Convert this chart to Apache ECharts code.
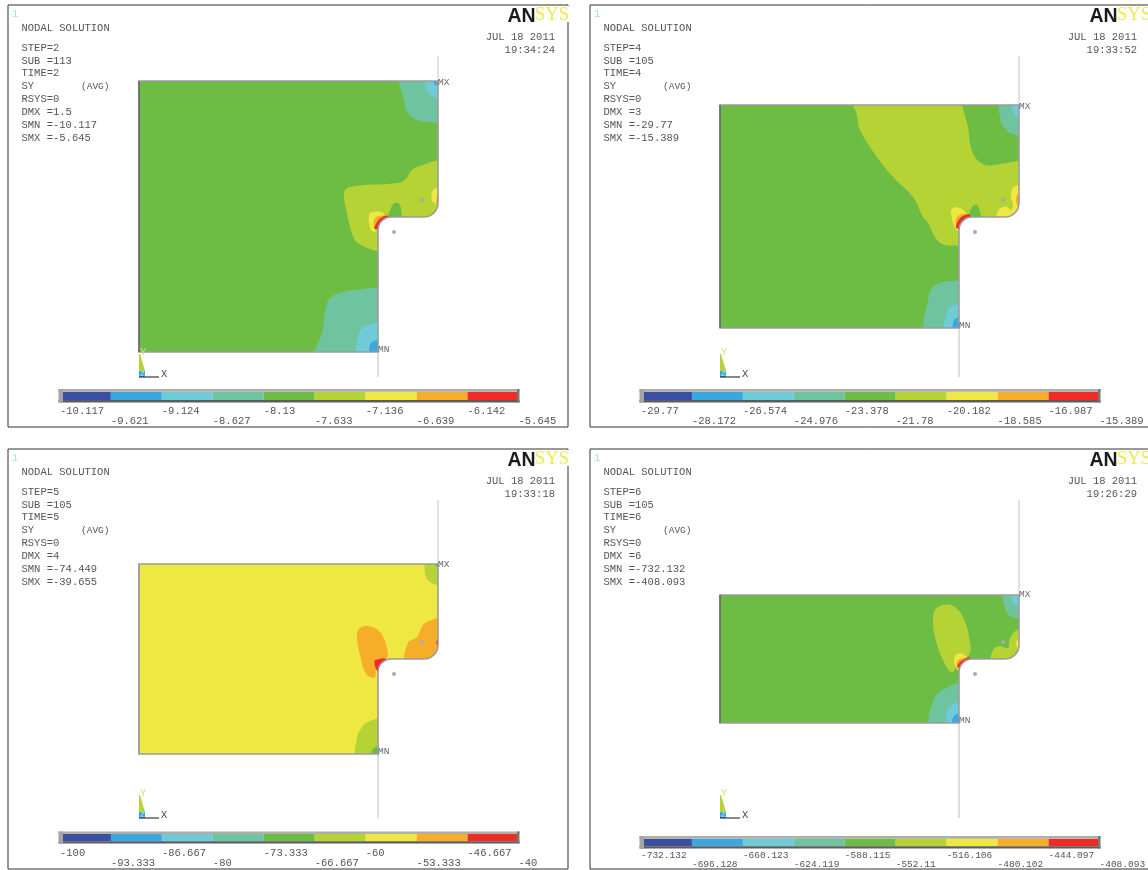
<!DOCTYPE html>
<html lang="en">
<head>
    <meta charset="UTF-8">
    <title>ANSYS nodal solution SY</title>
    <script src="https://cdn.jsdelivr.net/npm/echarts@6/dist/echarts.min.js"></script>
    <style>
        body { margin: 0; background: #fff; }
        #chart { width: 1148px; height: 870px; }
    </style>
</head>
<body>
    <div id="chart"></div>
    <script>
        // contour band colours, low to high
        const bandColors = ['#3a4fa0', '#3ba7e0', '#70cbd8', '#6ec49e', '#6dbd44', '#b5d334', '#efe843', '#f6ae2a', '#ee2b27'];

        const stepValues = [2, 4, 5, 6];
        const subValues = [113, 105, 105, 105];
        const dmxValues = ['1.5', '3', '4', '6'];
        const smnValues = ['-10.117', '-29.77', '-74.449', '-732.132'];
        const smxValues = ['-5.645', '-15.389', '-39.655', '-408.093'];
        const clockValues = ['19:34:24', '19:33:52', '19:33:18', '19:26:29'];

        const levelsStep2 = [-10.117, -9.621, -9.124, -8.627, -8.13, -7.633, -7.136, -6.639, -6.142, -5.645];
        const levelsStep4 = [-29.77, -28.172, -26.574, -24.976, -23.378, -21.78, -20.182, -18.585, -16.987, -15.389];
        const levelsStep5 = [-100, -93.333, -86.667, -80, -73.333, -66.667, -60, -53.333, -46.667, -40];
        const levelsStep6 = [-732.132, -696.128, -660.123, -624.119, -588.115, -552.11, -516.106, -480.102, -444.097, -408.093];

        // plate size in plot units, origin at the plate's top left corner
        const plateWidth = 299;
        const stepX = 239;
        const plateHeights = [271, 223, 190, 128];
        const notchYs = [136, 112, 95, 64];
        const outerRadius = 14;
        const innerRadius = 13;
        const centerOffset = 16;
        const guideLengths = [25, 49, 64, 95];
        const baseBands = [4, 4, 6, 4];
        const mxYs = [1, 1, 0, -1];
        const mnYs = [268, 220, 187, 125];

        // contour regions: [band, outline]. outlines may run past the plate, they get clipped to it
        const regionsStep2 = [
            [3, [[262, -4], [265, 19], [268, 31], [276, 38], [288, 41], [303, 39], [303, -4]]],
            [2, [[287, -4], [288, 9], [293, 15], [303, 17], [303, -4]]],
            [1, [[295, 2], [298, -2], [303, -2], [303, 5], [298, 5]]],
            [5, [[303, 79], [299, 79], [284, 84], [273, 89], [266, 99], [258, 102], [211, 106], [205, 112], [208, 132], [212, 149], [216, 159], [224, 165], [238, 170], [246, 171], [246, 150], [310, 150]]],
            [4, [[249, 140], [252, 127], [256, 122], [261, 124], [263, 136], [264, 142]]],
            [6, [[230, 136], [231, 132], [243, 131], [246, 136], [249, 138], [241, 146], [238, 150], [233, 150], [230, 142]]],
            [7, [[234.5, 141], [237, 136], [245, 134.5], [250, 136], [242, 150], [238, 150], [235.5, 147]]],
            [8, [[236, 148], [237.5, 142], [242, 137], [249, 135], [250, 145]]],
            [6, [[293, 120], [293, 111], [297, 107], [303, 107], [303, 127], [296, 122]]],
            [7, [[298, 115], [302, 115], [302, 125], [298, 125]]],
            [3, [[177, 275], [183, 252], [187, 226], [191, 217], [204, 211], [214, 209], [243, 211], [243, 275]]],
            [2, [[218, 275], [219, 256], [223, 247], [229, 244], [243, 243], [243, 275]]],
            [1, [[232, 275], [232, 262], [243, 260], [243, 275]]]
        ];

        const regionsStep4 = [
            [5, [[134, -4], [137, 10], [140, 25], [157, 52], [173, 72], [193, 92], [203, 112], [208, 118], [215, 132], [222, 139], [239, 141], [246, 141], [246, 125], [305, 125], [305, 56], [298, 56], [280, 59], [265, 60], [255, 52], [250, 38], [248, 22], [242, 0], [241, -4]]],
            [3, [[281, -4], [281, 18], [285, 23], [290, 28], [303, 29], [303, -4]]],
            [2, [[292, -4], [293, 7], [296, 11], [303, 12], [303, -4]]],
            [4, [[249, 116], [252, 102], [257, 100], [261, 110], [263, 116]]],
            [6, [[231, 108], [233, 103], [240, 103], [247, 110], [247, 118], [241, 127], [235, 122]]],
            [7, [[235.5, 117], [238, 111], [246, 109], [250, 114], [242, 125], [238, 124]]],
            [8, [[236.5, 123], [238, 116], [243, 111], [250, 110], [246, 122]]],
            [6, [[277, 114], [278, 106], [281, 103], [287, 102], [291, 105], [293, 100], [291, 92], [292, 85], [295, 81], [305, 81], [305, 114]]],
            [7, [[297, 90], [303, 90], [303, 100], [297, 100]]],
            [3, [[206, 227], [208, 195], [212, 183], [220, 178], [232, 176], [243, 177], [243, 227]]],
            [2, [[225, 227], [227, 208], [230, 202], [243, 200], [243, 227]]],
            [1, [[232.5, 227], [233, 219], [235, 214], [243, 213], [243, 227]]]
        ];

        const regionsStep5 = [
            [5, [[288, -4], [286, 9], [291, 18], [303, 20], [303, -4]]],
            [4, [[295, -2], [303, -2], [303, 3], [298, 3]]],
            [7, [[218, 71], [221, 64], [229, 62], [241, 68], [248, 84], [248, 94], [238, 101], [236, 113], [231, 113], [226, 108], [221, 91]]],
            [8, [[235.5, 97], [238, 95.5], [247, 95], [247, 104], [240, 108], [237, 105]]],
            [7, [[267, 100], [269, 79], [278, 73], [284, 61], [290, 57], [303, 55], [303, 100]]],
            [8, [[298, 76], [303, 76], [303, 81], [298, 81]]],
            [5, [[218, 194], [218, 174], [223, 163], [229, 158], [243, 156], [243, 194]]],
            [4, [[233, 194], [234, 185], [243, 182], [243, 194]]]
        ];

        const regionsStep6 = [
            [3, [[284, -4], [285, 13], [290, 21], [303, 22], [303, -4]]],
            [2, [[292, -4], [293, 7], [297, 10], [303, 10], [303, -4]]],
            [5, [[213, 27], [215, 15], [223, 10], [233, 11], [243, 22], [250, 47], [249, 60], [240, 65], [232, 77], [223, 65], [215, 42]]],
            [6, [[234, 65], [237, 59], [243, 59], [247, 65], [240, 75], [237, 74]]],
            [7, [[236.5, 69], [239, 64.5], [247, 63], [249, 70], [241, 75]]],
            [8, [[237.5, 72], [240, 67], [246, 63.5], [250, 63], [246, 74]]],
            [5, [[272, 68], [273, 55], [280, 51], [288, 53], [290, 43], [297, 35], [303, 35], [303, 68]]],
            [6, [[296, 48], [299, 43], [303, 43], [303, 54], [298, 53]]],
            [3, [[211, 132], [215, 102], [228, 92], [243, 89], [243, 132]]],
            [2, [[227, 132], [227, 117], [232, 110], [243, 107], [243, 132]]],
            [1, [[233, 132], [234, 121], [243, 119], [243, 132]]]
        ];

        const allLevels = [levelsStep2, levelsStep4, levelsStep5, levelsStep6];
        const allRegions = [regionsStep2, regionsStep4, regionsStep5, regionsStep6];

        // page layout of the four panels
        const frames = [
            { left: 8, top: 5, height: 422, plateLeft: 139, plateTop: 81 },
            { left: 590, top: 5, height: 422, plateLeft: 720, plateTop: 105 },
            { left: 8, top: 449, height: 420, plateLeft: 139, plateTop: 564 },
            { left: 590, top: 449, height: 420, plateLeft: 720, plateTop: 595 }
        ];
        const legendBoxes = [
            { left: 60, top: 389, height: 13.5, margin: 3.5, line: 10, size: 10.5 },
            { left: 641, top: 389, height: 13.5, margin: 3.5, line: 10, size: 10.5 },
            { left: 60, top: 831.5, height: 12, margin: 4, line: 10.5, size: 10.5 },
            { left: 641, top: 836, height: 12.5, margin: 2, line: 9, size: 9.5 }
        ];

        const monoFont = 'Liberation Mono';
        const textColor = '#555';

        function platePoints(h, notchY) {
            const pts = [[0, 0], [plateWidth, 0], [plateWidth, notchY - outerRadius]];
            // outer fillet, then the notch fillet
            for (let a = 0; a <= 90; a += 10) {
                const t = a * Math.PI / 180;
                pts.push([plateWidth - outerRadius + outerRadius * Math.cos(t), notchY - outerRadius + outerRadius * Math.sin(t)]);
            }
            for (let a = 0; a <= 90; a += 10) {
                const t = a * Math.PI / 180;
                pts.push([stepX + innerRadius - innerRadius * Math.sin(t), notchY + innerRadius - innerRadius * Math.cos(t)]);
            }
            pts.push([stepX, h], [0, h]);
            return pts;
        }

        const grid = [], xAxis = [], yAxis = [], series = [], graphic = [];

        frames.forEach((f, i) => {
            const h = plateHeights[i];
            const notchY = notchYs[i];
            const plate = platePoints(h, notchY);
            const regions = [[baseBands[i], plate]].concat(allRegions[i]);
            const guide = guideLengths[i];

            grid.push({ left: f.left, top: f.top, width: 560, height: f.height, outerBoundsMode: 'none', show: true, borderColor: '#333', borderWidth: 1, backgroundColor: '#fff' });
            xAxis.push({ gridIndex: i, type: 'value', show: false, min: f.left - f.plateLeft, max: f.left - f.plateLeft + 560 });
            yAxis.push({ gridIndex: i, type: 'value', show: false, inverse: true, min: f.top - f.plateTop, max: f.top - f.plateTop + f.height });

            // contours
            series.push({
                type: 'custom',
                coordinateSystem: 'cartesian2d',
                xAxisIndex: i,
                yAxisIndex: i,
                silent: true,
                animation: false,
                data: regions.map(r => r[1][0]),
                renderItem: (params, api) => {
                    const r = regions[params.dataIndex];
                    return {
                        type: 'polygon',
                        shape: { points: r[1].map(p => api.coord(p)), smooth: params.dataIndex ? 0.4 : 0 },
                        style: { fill: bandColors[r[0]] },
                        clipPath: { type: 'polygon', shape: { points: plate.map(p => api.coord(p)) } }
                    };
                }
            });

            // plate outline, guide lines, triad and markers
            series.push({
                type: 'custom',
                coordinateSystem: 'cartesian2d',
                xAxisIndex: i,
                yAxisIndex: i,
                silent: true,
                animation: false,
                data: [[0, 0]],
                renderItem: (params, api) => {
                    const line = (a, b, stroke, width) => {
                        const p = api.coord(a), q = api.coord(b);
                        return { type: 'line', shape: { x1: p[0], y1: p[1], x2: q[0], y2: q[1] }, style: { stroke: stroke, lineWidth: width } };
                    };
                    const label = (at, text, size, fill, align) => {
                        const p = api.coord(at);
                        return { type: 'text', x: p[0], y: p[1], style: { text: text, font: size + 'px ' + monoFont, fill: fill, align: align || 'left', verticalAlign: 'middle' } };
                    };
                    const dot = at => {
                        const p = api.coord(at);
                        return { type: 'circle', shape: { cx: p[0], cy: p[1], r: 2 }, style: { fill: '#aaa' } };
                    };
                    const triadY = h + guide;
                    return {
                        type: 'group',
                        children: [
                            line([plateWidth, -guide], [plateWidth, 0], '#c4c4c4', 1),
                            line([stepX, h], [stepX, triadY], '#bbb', 1),
                            { type: 'polygon', shape: { points: plate.map(p => api.coord(p)) }, style: { fill: 'none', stroke: '#9c9c9c', lineWidth: 1.6 } },
                            line([0, 0], [0, h], i === 2 ? '#999' : '#444', 1),
                            dot([plateWidth - centerOffset, notchY - centerOffset - 1]),
                            dot([stepX + centerOffset, notchY + centerOffset - 1]),
                            label([plateWidth, mxYs[i]], 'MX', 9.5, '#666'),
                            label([stepX, mnYs[i]], 'MN', 9.5, '#666'),
                            { type: 'polygon', shape: { points: [[0, triadY - 23], [1, triadY - 23], [6, triadY - 6], [0, triadY - 6]].map(p => api.coord(p)) }, style: { fill: bandColors[5] } },
                            { type: 'polygon', shape: { points: [[0, triadY - 6], [6, triadY - 6], [6, triadY], [0, triadY]].map(p => api.coord(p)) }, style: { fill: bandColors[1] } },
                            line([0, triadY], [20, triadY], '#111', 1),
                            label([22, triadY - 3], 'X', 10.5, '#444'),
                            label([1, triadY - 25], 'Y', 10.5, '#d8e27a'),
                            label([1, triadY - 3], 'Z', 8, '#a9e0ea')
                        ]
                    };
                }
            });

            // header text
            const tx = f.left + 13.5;
            const ty = f.top;
            const font = '10.5px ' + monoFont;
            graphic.push(
                { type: 'text', x: f.left + 4, y: ty + 4, style: { text: '1', font: font, fill: '#a9e0ea' } },
                { type: 'text', x: tx, y: ty + 18, style: { text: 'NODAL SOLUTION', font: font, fill: textColor } },
                {
                    type: 'text', x: tx, y: ty + 36.5,
                    style: {
                        text: ['STEP=' + stepValues[i], 'SUB =' + subValues[i], 'TIME=' + stepValues[i], 'SY', 'RSYS=0', 'DMX =' + dmxValues[i], 'SMN =' + smnValues[i], 'SMX =' + smxValues[i]].join('\n'),
                        font: font, fill: textColor, lineHeight: 12.85
                    }
                },
                { type: 'text', x: tx + 59.5, y: ty + 76.5, style: { text: '(AVG)', font: '9.5px ' + monoFont, fill: textColor } },
                { type: 'text', x: f.left + 547, y: ty + 26, style: { text: 'JUL 18 2011\n' + clockValues[i], font: font, fill: textColor, align: 'right', lineHeight: 13 } },
                { type: 'rect', shape: { x: f.left + 497, y: ty + 1, width: 65, height: 16 }, style: { fill: '#fff' } },
                { type: 'text', x: f.left + 499.5, y: ty + 1.5, style: { text: 'AN', font: 'bold 19.5px Liberation Sans', fill: '#1a1a1a' } },
                { type: 'text', x: f.left + 527, y: ty + 1, style: { text: 'SYS', font: '18.5px Liberation Serif', fill: '#f0e94a' } }
            );
        });

        // colour legends, one axis per panel
        legendBoxes.forEach((b, i) => {
            const levels = allLevels[i];
            const k = frames.length + i;
            const lo = levels[0], hi = levels[9];
            const cap = (hi - lo) * 0.0065;
            grid.push({ left: b.left, top: b.top, width: 458.5, height: b.height, outerBoundsMode: 'none' });
            xAxis.push({
                gridIndex: k,
                type: 'value',
                min: lo,
                max: hi,
                splitLine: { show: false },
                axisLine: { show: false },
                axisTick: { show: true, length: 2, customValues: levels, lineStyle: { color: '#888' } },
                axisLabel: {
                    customValues: levels,
                    align: 'left',
                    margin: b.margin,
                    lineHeight: b.line,
                    fontFamily: monoFont,
                    fontSize: b.size,
                    color: textColor,
                    formatter: v => levels.indexOf(v) % 2 ? '\n' + v : String(v)
                }
            });
            yAxis.push({ gridIndex: k, type: 'value', show: false, min: -0.3, max: 1.35 });
            series.push({
                type: 'custom',
                coordinateSystem: 'cartesian2d',
                xAxisIndex: k,
                yAxisIndex: k,
                silent: true,
                animation: false,
                data: bandColors.map((c, n) => [levels[n], levels[n + 1]]),
                renderItem: (params, api) => {
                    const box = (x0, x1, y0, y1, fill) => {
                        const p = api.coord([x0, y1]), q = api.coord([x1, y0]);
                        return { type: 'rect', shape: { x: p[0], y: p[1], width: q[0] - p[0], height: q[1] - p[1] }, style: { fill: fill } };
                    };
                    const n = params.dataIndex;
                    const children = [box(levels[n], levels[n + 1], 0, 1, bandColors[n])];
                    if (n === 8) {
                        children.push(
                            box(lo - cap / 2, hi + cap / 3, 1, 1.35, '#b0aea8'),
                            box(lo - cap / 2, hi + cap / 3, -0.3, 0, '#5c5c5c'),
                            box(lo - cap / 2, lo + cap, -0.3, 1.35, '#a5a5a5'),
                            box(hi - cap / 2, hi + cap / 3, -0.3, 1.35, '#777')
                        );
                    }
                    return { type: 'group', children: children };
                }
            });
        });

        const chart = echarts.init(document.getElementById('chart'));
        chart.setOption({
            backgroundColor: '#fff',
            animation: false,
            grid: grid,
            xAxis: xAxis,
            yAxis: yAxis,
            series: series,
            graphic: { elements: graphic }
        });
    </script>
</body>
</html>
